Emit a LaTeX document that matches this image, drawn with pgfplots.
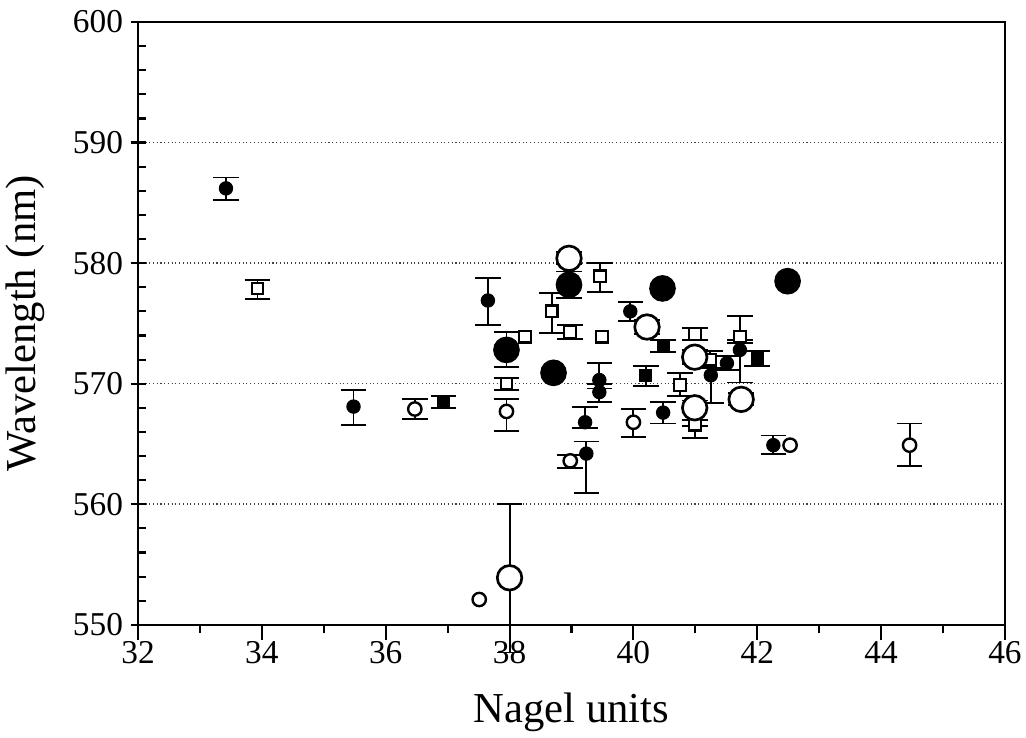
\documentclass[border=0pt]{standalone}
\usepackage{fontspec}
\setmainfont{Liberation Serif}
\usepackage{pgfplots}
\usepackage{pgfplotstable}
\pgfplotsset{compat=1.18}

% small filled circles with error bars
\pgfplotstableread{
x y ep em
33.42 586.2 0.9 1.0
35.48 568.1 1.4 1.5
37.65 576.9 1.9 2.0
39.95 576.0 0.8 0.8
39.45 570.3 1.4 0.3
39.45 569.3 0.3 0.8
39.22 566.8 1.3 0.5
39.24 564.2 1.0 3.3
40.48 567.6 0.9 0.9
41.25 570.7 0.6 2.3
41.51 571.7 0.6 0.6
41.72 572.8 0.6 2.7
42.26 564.9 0.8 0.7
}\fcerr

% small filled squares
\pgfplotstableread{
x y ep em
36.93 568.5 0.5 0.5
40.20 570.7 0.8 0.9
40.48 573.1 0.5 0.5
42.00 572.1 0.6 0.6
}\fserr

% large filled circles
\pgfplotstableread{
x y ep em
37.95 572.8 1.5 1.4
38.96 578.2 1.1 1.1
}\bfcerr
\pgfplotstableread{
x y
38.71 570.9
40.47 577.9
42.49 578.5
}\bfc

% small open circles
\pgfplotstableread{
x y ep em
36.47 567.9 0.8 0.8
37.95 567.7 1.0 1.6
38.98 563.6 0.5 0.6
40.00 566.8 1.1 1.2
44.46 564.9 1.8 1.7
}\ocerr
\pgfplotstableread{
x y
37.51 552.1
42.53 564.9
}\oc

% large open circles
\pgfplotstableread{
x y ep em
38.96 580.4 0.5 0.5
38.00 553.9 6.1 6.2
40.22 574.7 0.6 0.6
40.99 572.2 0.6 0.6
40.99 568.0 0.6 1.5
41.74 568.7 0.5 0.5
}\bocerr

% open squares
\pgfplotstableread{
x y ep em
33.93 577.9 0.7 0.9
37.95 570.0 0.5 0.5
38.68 576.0 1.5 1.8
38.98 574.3 0.6 0.6
39.46 578.9 1.1 1.3
40.99 574.1 0.5 0.5
40.75 569.9 1.0 0.9
41.24 572.0 0.7 0.7
41.72 573.9 1.7 0.3
40.99 566.6 0.4 1.1
}\sqerr
\pgfplotstableread{
x y
38.25 573.9
39.49 573.9
}\sq

\pgfplotsset{
  errs/.style={error bars/.cd, y dir=both, y explicit,
    error bar style={line width=0.7pt, black},
    error mark options={rotate=90, line width=0.7pt, mark size=4.8pt, black}},
  fcm/.style={only marks, mark=*, mark size=2.5pt, mark options={fill=black, draw=black}},
  fsm/.style={only marks, mark=square*, mark size=2.2pt, mark options={fill=black, draw=black}},
  bfcm/.style={only marks, mark=*, mark size=4.8pt, mark options={fill=black, draw=black}},
  ocm/.style={only marks, mark=*, mark size=2.5pt, mark options={fill=white, draw=black, line width=0.9pt}},
  bocm/.style={only marks, mark=*, mark size=4.6pt, mark options={fill=white, draw=black, line width=1pt}},
  sqm/.style={only marks, mark=square*, mark size=2.2pt, mark options={fill=white, draw=black, line width=0.8pt}},
}

\begin{document}
\begin{tikzpicture}
\begin{axis}[
  scale only axis,
  width=325pt, height=226pt,
  xmin=32, xmax=46, ymin=550, ymax=600,
  xtick={32,34,...,46}, ytick={550,560,...,600},
  minor x tick num=1, minor y tick num=4,
  xtick pos=left, ytick pos=left,
  tick align=outside,
  major tick length=5.6pt, minor tick length=3pt,
  tick style={line width=0.8pt, black},
  minor y tick style={xshift=3pt},
  major y tick style={xshift=2.8pt},
  axis line style={line width=0.9pt},
  ymajorgrids,
  grid style={densely dotted, line width=0.6pt, black!75},
  /pgf/number format/assume math mode=true,
  /pgf/number format/1000 sep={},
  ticklabel style={font=\fontsize{12.5}{14}\selectfont},
  yticklabel style={xshift=3.5pt},
  xticklabel style={yshift=3pt},
  xlabel={Nagel units}, ylabel={Wavelength (nm)},
  every axis x label/.style={at={(axis description cs:0.5,-0.145)}, anchor=center,
    font=\fontsize{16}{18}\selectfont},
  every axis y label/.style={at={(axis description cs:-0.13,0.5)}, anchor=center, rotate=90,
    font=\fontsize{16}{18}\selectfont},
  clip=false,
]
\addplot[sqm, errs] table[x=x, y=y, y error plus=ep, y error minus=em] {\sqerr};
\addplot[sqm] table[x=x, y=y] {\sq};
\addplot[ocm, errs] table[x=x, y=y, y error plus=ep, y error minus=em] {\ocerr};
\addplot[ocm] table[x=x, y=y] {\oc};
\addplot[fcm, errs] table[x=x, y=y, y error plus=ep, y error minus=em] {\fcerr};
\addplot[fsm, errs] table[x=x, y=y, y error plus=ep, y error minus=em] {\fserr};
\addplot[bocm, errs] table[x=x, y=y, y error plus=ep, y error minus=em] {\bocerr};
\addplot[bfcm, errs] table[x=x, y=y, y error plus=ep, y error minus=em] {\bfcerr};
\addplot[bfcm] table[x=x, y=y] {\bfc};
\end{axis}
\path (current axis.south west) ++(-51.75pt,-42.4pt) coordinate (bbA);
\path (current axis.north east) ++(7.9pt,8.25pt) coordinate (bbB);
\pgfresetboundingbox
\path[use as bounding box] (bbA) rectangle (bbB);
\end{tikzpicture}
\end{document}
